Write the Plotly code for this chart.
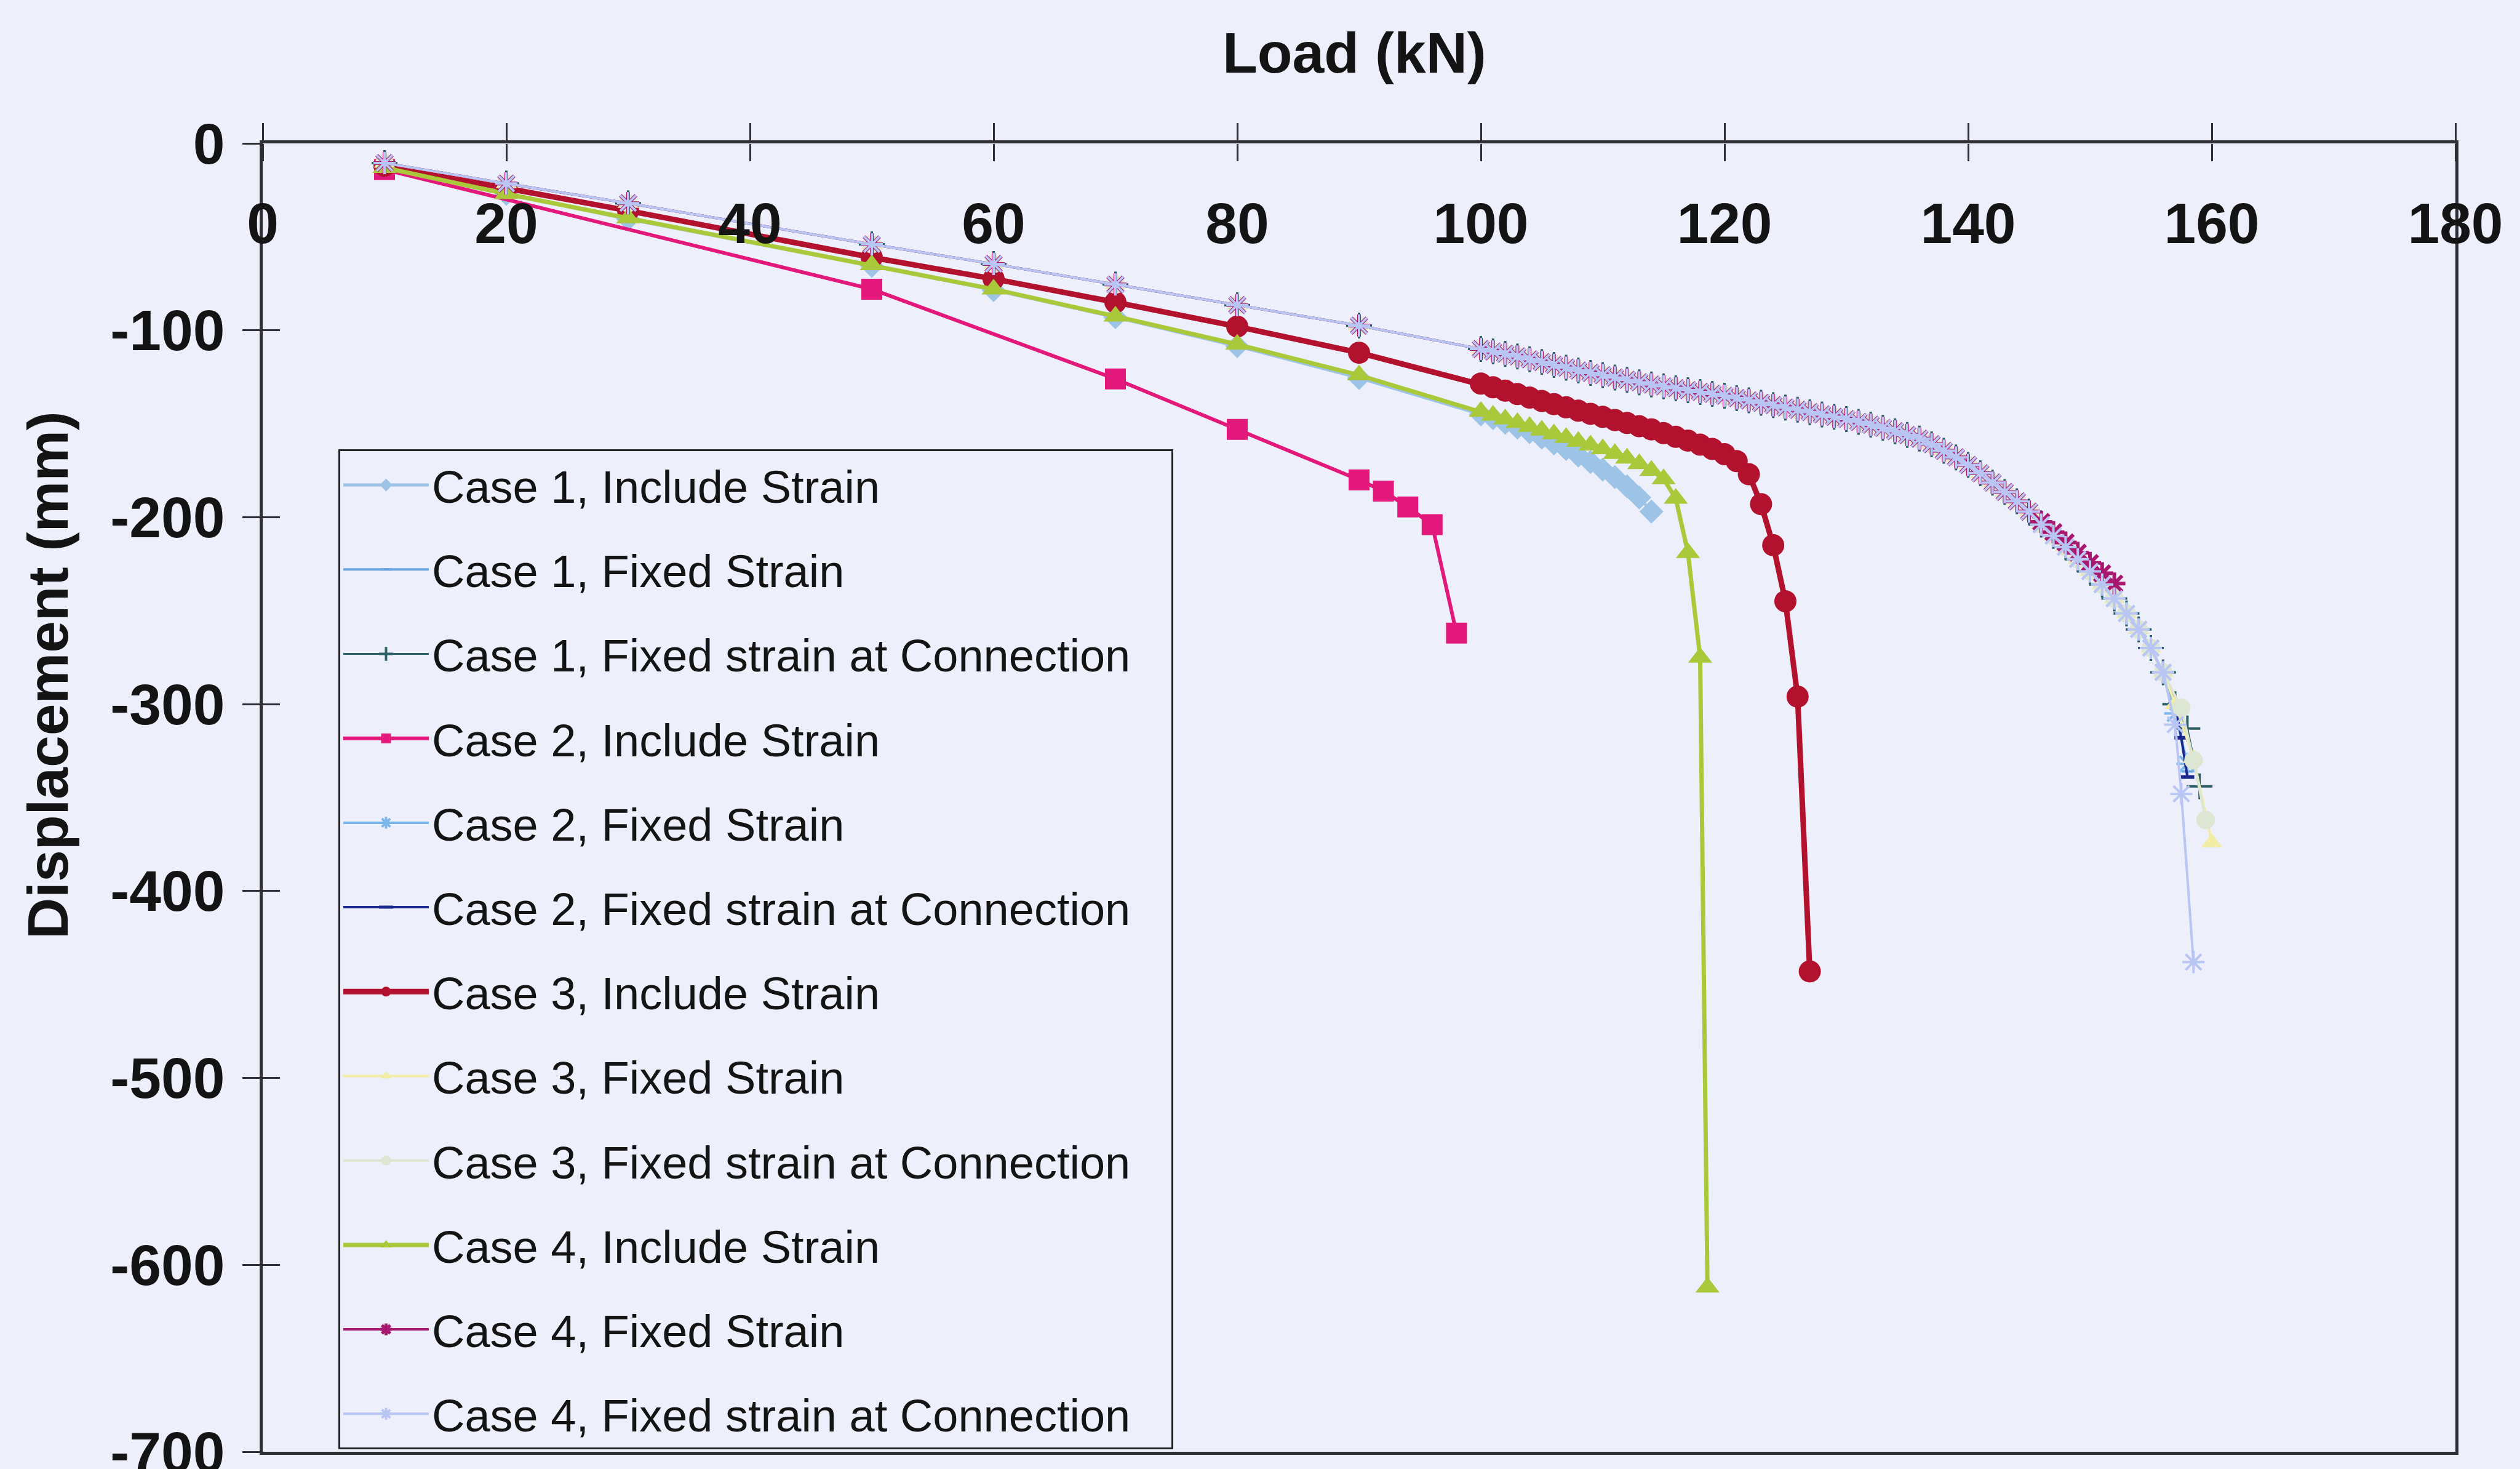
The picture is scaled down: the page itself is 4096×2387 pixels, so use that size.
import plotly.graph_objects as go

# ---------------- data: load (kN) vs vertical displacement (mm) ----------------

# shared path of the fixed-strain analyses (they coincide up to ~145 kN)
LOAD_UPPER = [10, 20, 30, 50, 60, 70, 80, 90, 100,
              101, 102, 103, 104, 105, 106, 107, 108, 109, 110,
              111, 112, 113, 114, 115, 116, 117, 118, 119, 120,
              121, 122, 123, 124, 125, 126, 127, 128, 129, 130,
              131, 132, 133, 134, 135, 136, 137, 138, 139, 140,
              141, 142, 143, 144, 145]
DISP_UPPER = [-10.5, -21.5, -32, -54, -64.5, -75.5, -86.5, -97.5, -110,
              -111.3, -112.6, -114, -115.5, -117, -118.5, -120, -121.5, -122.8, -124,
              -125.3, -126.5, -127.8, -129, -130, -131, -132, -133, -134, -135,
              -136.3, -137.5, -138.8, -140, -141.3, -142.5, -143.8, -145, -146.3, -147.5,
              -149, -150.5, -152.2, -154, -156, -158, -161, -164.5, -168, -172,
              -176.5, -181.5, -186.5, -191.5, -197]

# Case 4 fixed strain stops at ~152 kN
C4_FIXED_TAIL_LOAD = [146, 147, 148, 149, 150, 151, 152]
C4_FIXED_TAIL_DISP = [-202.5, -208, -213.5, -219, -224.5, -230, -235.5]

# the remaining fixed-strain analyses continue together to ~156 kN
FIXED_TAIL_LOAD = [146, 147, 148, 149, 150, 151, 152, 153, 154, 155, 156]
FIXED_TAIL_DISP = [-204, -210, -216, -222.5, -229, -236, -243.5, -251.5, -260, -270, -283]

# individual end points of each fixed-strain analysis
C1_FIXED_END_LOAD = [157, 158]
C1_FIXED_END_DISP = [-302, -336]
C1_CONN_END_LOAD = [157, 158, 159]
C1_CONN_END_DISP = [-300, -313, -344]
C2_FIXED_END_LOAD = [157, 158]
C2_FIXED_END_DISP = [-305, -332]
C2_CONN_END_LOAD = [157, 157.5, 158]
C2_CONN_END_DISP = [-300, -318, -339]
C3_FIXED_END_LOAD = [157, 158.5, 160]
C3_FIXED_END_DISP = [-300, -329, -374]
C3_CONN_END_LOAD = [157.5, 158.5, 159.5]
C3_CONN_END_DISP = [-302, -330, -362]
C4_CONN_END_LOAD = [157, 157.5, 158.5]
C4_CONN_END_DISP = [-311, -348, -438]

# Case 1, include strain
C1_INC_LOAD = [10, 20, 30, 50, 60, 70, 80, 90, 100,
               101, 102, 103, 104, 105, 106, 107, 108, 109, 110, 111, 112, 113, 114]
C1_INC_DISP = [-13, -27, -40.5, -65.5, -78.5, -93, -108.5, -125.5, -145,
               -147, -149.5, -152, -154.5, -157.5, -160.5, -163.5, -167, -170.5,
               -174.5, -178.5, -183.5, -189.5, -197]

# Case 2, include strain
C2_INC_LOAD = [10, 50, 70, 80, 90, 92, 94, 96, 98]
C2_INC_DISP = [-14, -78, -126, -153, -180, -186, -194.5, -204, -262]

# Case 3, include strain
C3_INC_LOAD = [10, 20, 30, 50, 60, 70, 80, 90, 100,
               101, 102, 103, 104, 105, 106, 107, 108, 109, 110, 111,
               112, 113, 114, 115, 116, 117, 118, 119, 120, 121, 122,
               123, 124, 125, 126, 127]
C3_INC_DISP = [-12, -24, -36, -61, -72.5, -85, -98, -112, -128.5,
               -130.5, -132.3, -134.1, -136, -137.8, -139.5, -141.2, -143, -144.7, -146.3, -148,
               -149.6, -151.3, -153, -155, -157, -159, -161.2, -163.5, -166.3, -170, -177,
               -193, -215, -245, -296, -443]

# Case 4, include strain
C4_INC_LOAD = [10, 20, 30, 50, 60, 70, 80, 90, 100,
               101, 102, 103, 104, 105, 106, 107, 108, 109, 110,
               111, 112, 113, 114, 115, 116, 117, 118, 118.6]
C4_INC_DISP = [-13, -27, -40, -65, -78, -92.5, -107.5, -124, -143.5,
               -145.5, -147.5, -149.5, -151.5, -153.5, -155.5, -157.5, -159.5, -161.5, -163.5,
               -166, -168.5, -171.5, -175, -179.5, -190, -219, -275, -612]

# axis ticks
X_TICKS = [0, 20, 40, 60, 80, 100, 120, 140, 160, 180]
X_TICK_TEXT = ["0", "20", "40", "60", "80", "100", "120", "140", "160", "180"]
Y_TICKS = [0, -100, -200, -300, -400, -500, -600, -700]
Y_TICK_TEXT = ["0", "-100", "-200", "-300", "-400", "-500", "-600", "-700"]

# ---------------- series definitions (legend order = drawing order) ----------------
NB = "\u00a0\u00a0\u00a0"   # keeps some air at the right edge of the legend box
series = [
    dict(name="Case 1, Include Strain", x=C1_INC_LOAD, y=C1_INC_DISP,
         color="#9DC3E6", lw=5, symbol="diamond", size=30, mlw=0),
    dict(name="Case 1, Fixed Strain",
         x=LOAD_UPPER + FIXED_TAIL_LOAD + C1_FIXED_END_LOAD,
         y=DISP_UPPER + FIXED_TAIL_DISP + C1_FIXED_END_DISP,
         color="#6EA6E0", lw=4, symbol="line-ew-open", size=14, mlw=4),
    dict(name="Case 1, Fixed strain at Connection" + NB,
         x=LOAD_UPPER + FIXED_TAIL_LOAD + C1_CONN_END_LOAD,
         y=DISP_UPPER + FIXED_TAIL_DISP + C1_CONN_END_DISP,
         color="#2F5F66", lw=3, symbol="cross-thin-open", size=30, mlw=4),
    dict(name="Case 2, Include Strain", x=C2_INC_LOAD, y=C2_INC_DISP,
         color="#E2197A", lw=6, symbol="square", size=34, mlw=0),
    dict(name="Case 2, Fixed Strain",
         x=LOAD_UPPER + FIXED_TAIL_LOAD + C2_FIXED_END_LOAD,
         y=DISP_UPPER + FIXED_TAIL_DISP + C2_FIXED_END_DISP,
         color="#7DB6EA", lw=4, symbol="asterisk-open", size=30, mlw=4),
    dict(name="Case 2, Fixed strain at Connection" + NB,
         x=LOAD_UPPER + FIXED_TAIL_LOAD + C2_CONN_END_LOAD,
         y=DISP_UPPER + FIXED_TAIL_DISP + C2_CONN_END_DISP,
         color="#1B2A8C", lw=4, symbol="line-ew-open", size=16, mlw=6),
    dict(name="Case 3, Include Strain", x=C3_INC_LOAD, y=C3_INC_DISP,
         color="#B3122E", lw=9, symbol="circle", size=36, mlw=0),
    dict(name="Case 3, Fixed Strain",
         x=LOAD_UPPER + FIXED_TAIL_LOAD + C3_FIXED_END_LOAD,
         y=DISP_UPPER + FIXED_TAIL_DISP + C3_FIXED_END_DISP,
         color="#F2EDA6", lw=4, symbol="triangle-up", size=30, mlw=0),
    dict(name="Case 3, Fixed strain at Connection" + NB,
         x=LOAD_UPPER + FIXED_TAIL_LOAD + C3_CONN_END_LOAD,
         y=DISP_UPPER + FIXED_TAIL_DISP + C3_CONN_END_DISP,
         color="#DDE5D3", lw=4, symbol="circle", size=30, mlw=0),
    dict(name="Case 4, Include Strain", x=C4_INC_LOAD, y=C4_INC_DISP,
         color="#A9C93A", lw=7, symbol="triangle-up", size=34, mlw=0),
    dict(name="Case 4, Fixed Strain",
         x=LOAD_UPPER + C4_FIXED_TAIL_LOAD,
         y=DISP_UPPER + C4_FIXED_TAIL_DISP,
         color="#A8186E", lw=4, symbol="asterisk-open", size=30, mlw=6),
    dict(name="Case 4, Fixed strain at Connection" + NB,
         x=LOAD_UPPER + FIXED_TAIL_LOAD + C4_CONN_END_LOAD,
         y=DISP_UPPER + FIXED_TAIL_DISP + C4_CONN_END_DISP,
         color="#B9C5F3", lw=4, symbol="asterisk-open", size=30, mlw=4),
]

BG = "#EDEFFA"
INK = "#141414"
AXIS = "#2E2E34"
FONT = "Liberation Sans, Arial, Helvetica, sans-serif"
TICK_FONT = dict(family=FONT, size=93, color=INK, weight="bold")

fig = go.Figure()
for i, s in enumerate(series):
    fig.add_trace(go.Scatter(
        x=s["x"], y=s["y"], name=s["name"], mode="lines+markers",
        legendgroup=f"g{i}",
        line=dict(color=s["color"], width=s["lw"]),
        marker=dict(symbol=s["symbol"], size=s["size"], color=s["color"],
                    line=dict(color=s["color"], width=s["mlw"])),
        cliponaxis=False,
    ))

# empty trace that attaches the companion axes (crossing ticks, load labels)
fig.add_trace(go.Scatter(x=[], y=[], xaxis="x2", yaxis="y2", mode="lines",
                         showlegend=False, hoverinfo="skip"))

W, H = 4096, 2387
L, R, T, B = 427, 105, 233, 28

fig.update_layout(
    width=W, height=H,
    margin=dict(l=L, r=R, t=T, b=B, pad=0),
    paper_bgcolor=BG, plot_bgcolor=BG,
    font=dict(family=FONT, color=INK),
    showlegend=True,
    legend=dict(
        x=0.0345, y=0.766, xanchor="left", yanchor="top",
        bgcolor=BG, bordercolor="#222226", borderwidth=3,
        font=dict(family=FONT, size=74, color=INK),
        itemwidth=139, tracegroupgap=38, traceorder="grouped",
        itemsizing="trace",
    ),
    # load axis: line along displacement = 0, outer half of the tick marks
    xaxis=dict(
        range=[0, 180], side="top", tickmode="array", tickvals=X_TICKS,
        ticks="outside", ticklen=28, tickwidth=3, tickcolor=AXIS,
        showticklabels=False, automargin=False,
        showline=True, linecolor=AXIS, linewidth=5, mirror=True,
        showgrid=False, zeroline=False,
    ),
    # companion load axis on the same line: inner tick half and labels below it
    xaxis2=dict(
        range=[0, 180], overlaying="x", anchor="free", position=1, side="bottom",
        tickmode="array", tickvals=X_TICKS, ticktext=X_TICK_TEXT,
        ticks="outside", ticklen=28, tickwidth=3, tickcolor=AXIS,
        tickfont=TICK_FONT, ticklabelstandoff=21, ticklabeloverflow="allow",
        automargin=False, showline=False, showgrid=False, zeroline=False,
    ),
    yaxis=dict(
        range=[-700, 0], tickmode="array",
        tickvals=Y_TICKS, ticktext=Y_TICK_TEXT,
        ticks="outside", ticklen=28, tickwidth=3, tickcolor=AXIS,
        ticklabelstandoff=10, ticklabeloverflow="allow",
        tickfont=TICK_FONT, automargin=False,
        showline=True, linecolor=AXIS, linewidth=5, mirror=True,
        showgrid=False, zeroline=False,
    ),
    yaxis2=dict(
        range=[-700, 0], overlaying="y", side="left", anchor="x",
        tickmode="array", tickvals=Y_TICKS,
        ticks="inside", ticklen=28, tickwidth=3, tickcolor=AXIS,
        showticklabels=False, showline=False, showgrid=False, zeroline=False,
        automargin=False,
    ),
    annotations=[
        dict(text="Load (kN)", xref="paper", yref="paper", x=0.498, y=1.0692,
             xanchor="center", yanchor="middle", showarrow=False,
             font=dict(family=FONT, size=93, color=INK, weight="bold")),
        dict(text="Displacement (mm)", xref="paper", yref="paper", x=-0.0979, y=0.5936,
             xanchor="center", yanchor="middle", showarrow=False, textangle=-90,
             font=dict(family=FONT, size=93, color=INK, weight="bold")),
    ],
)

fig.write_html("out.html")
